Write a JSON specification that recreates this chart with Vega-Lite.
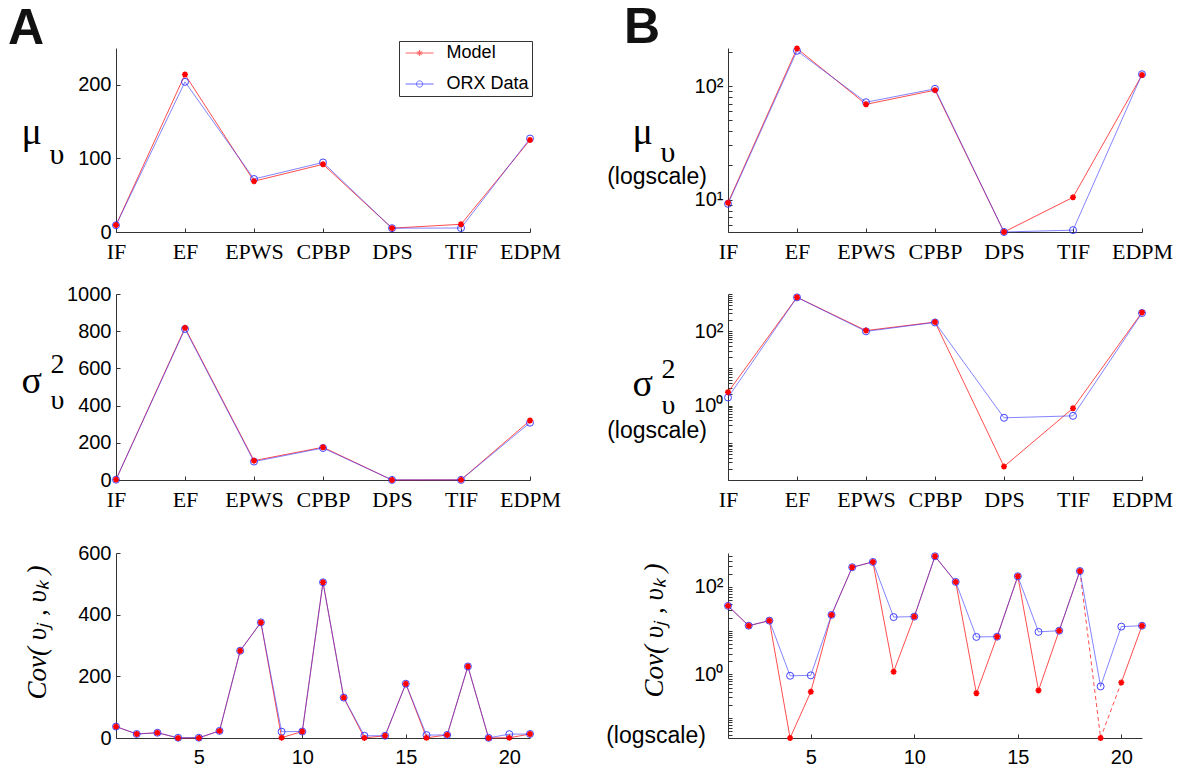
{
  "$schema": "https://vega.github.io/schema/vega-lite/v6.json",
  "autosize": {"type": "none"},
  "padding": {"left": 116, "top": 48, "right": 1072, "bottom": 719},
  "background": "white",
  "datasets": {
    "mu": [
      {"cat": "IF", "series": "Model", "value": 9.4}, {"cat": "IF", "series": "ORX Data", "value": 9.2},
      {"cat": "EF", "series": "Model", "value": 214}, {"cat": "EF", "series": "ORX Data", "value": 204},
      {"cat": "EPWS", "series": "Model", "value": 69}, {"cat": "EPWS", "series": "ORX Data", "value": 72},
      {"cat": "CPBP", "series": "Model", "value": 92}, {"cat": "CPBP", "series": "ORX Data", "value": 94.5},
      {"cat": "DPS", "series": "Model", "value": 5.2}, {"cat": "DPS", "series": "ORX Data", "value": 5.2},
      {"cat": "TIF", "series": "Model", "value": 10.5}, {"cat": "TIF", "series": "ORX Data", "value": 5.4},
      {"cat": "EDPM", "series": "Model", "value": 125}, {"cat": "EDPM", "series": "ORX Data", "value": 127}
    ],
    "sigma": [
      {"cat": "IF", "series": "Model", "value": 2.3}, {"cat": "IF", "series": "ORX Data", "value": 1.65},
      {"cat": "EF", "series": "Model", "value": 818}, {"cat": "EF", "series": "ORX Data", "value": 812},
      {"cat": "EPWS", "series": "Model", "value": 104}, {"cat": "EPWS", "series": "ORX Data", "value": 99},
      {"cat": "CPBP", "series": "Model", "value": 176}, {"cat": "CPBP", "series": "ORX Data", "value": 172},
      {"cat": "DPS", "series": "Model", "value": 0.023}, {"cat": "DPS", "series": "ORX Data", "value": 0.47},
      {"cat": "TIF", "series": "Model", "value": 0.85}, {"cat": "TIF", "series": "ORX Data", "value": 0.53},
      {"cat": "EDPM", "series": "Model", "value": 320}, {"cat": "EDPM", "series": "ORX Data", "value": 308}
    ],
    "cov": [
      {"k": 1, "series": "Model", "value": 37}, {"k": 1, "series": "ORX Data", "value": 37},
      {"k": 2, "series": "Model", "value": 13}, {"k": 2, "series": "ORX Data", "value": 13},
      {"k": 3, "series": "Model", "value": 17}, {"k": 3, "series": "ORX Data", "value": 17},
      {"k": 4, "series": "Model", "value": 0.035}, {"k": 4, "series": "ORX Data", "value": 0.93},
      {"k": 5, "series": "Model", "value": 0.4}, {"k": 5, "series": "ORX Data", "value": 0.95},
      {"k": 6, "series": "Model", "value": 23}, {"k": 6, "series": "ORX Data", "value": 23},
      {"k": 7, "series": "Model", "value": 283}, {"k": 7, "series": "ORX Data", "value": 283},
      {"k": 8, "series": "Model", "value": 375}, {"k": 8, "series": "ORX Data", "value": 375},
      {"k": 9, "series": "Model", "value": 1.15}, {"k": 9, "series": "ORX Data", "value": 20.5},
      {"k": 10, "series": "Model", "value": 21}, {"k": 10, "series": "ORX Data", "value": 21},
      {"k": 11, "series": "Model", "value": 505}, {"k": 11, "series": "ORX Data", "value": 505},
      {"k": 12, "series": "Model", "value": 131}, {"k": 12, "series": "ORX Data", "value": 131},
      {"k": 13, "series": "Model", "value": 0.37}, {"k": 13, "series": "ORX Data", "value": 7.2},
      {"k": 14, "series": "Model", "value": 7.3}, {"k": 14, "series": "ORX Data", "value": 7.3},
      {"k": 15, "series": "Model", "value": 176}, {"k": 15, "series": "ORX Data", "value": 176},
      {"k": 16, "series": "Model", "value": 0.43}, {"k": 16, "series": "ORX Data", "value": 9.4},
      {"k": 17, "series": "Model", "value": 10}, {"k": 17, "series": "ORX Data", "value": 10},
      {"k": 18, "series": "Model", "value": 232}, {"k": 18, "series": "ORX Data", "value": 232},
      {"k": 19, "series": "Model", "value": 0.035}, {"k": 19, "series": "ORX Data", "value": 0.53},
      {"k": 20, "series": "Model", "value": 0.65}, {"k": 20, "series": "ORX Data", "value": 12.4},
      {"k": 21, "series": "Model", "value": 13}, {"k": 21, "series": "ORX Data", "value": 13}
    ]
  },
  "columns": 2,
  "spacing": {"row": 62, "column": 198},
  "bounds": "flush",
  "concat": [
    {
      "width": 414, "height": 184,
      "title": {"text": "A", "anchor": "start", "frame": "group", "font": "Liberation Sans", "fontSize": 50, "fontWeight": "bold", "color": "#111111", "baseline": "alphabetic", "offset": 0, "dx": -108, "dy": 46},
      "data": {"name": "mu"},
      "encoding": {
        "x": {"field": "cat", "type": "nominal", "sort": null,
              "scale": {"type": "point", "padding": 0, "domain": ["IF", "EF", "EPWS", "CPBP", "DPS", "TIF", "EDPM"]},
              "axis": {"labelFont": "Liberation Serif", "labelFontSize": 22, "labelAngle": 0, "labelPadding": 13,
                       "title": "υ", "titleFont": "Liberation Serif", "titleFontSize": 30, "titleAngle": 0, "titleAlign": "left", "titleBaseline": "alphabetic", "titleX": -67, "titleY": -69}},
        "y": {"field": "value", "type": "quantitative", "scale": {"domain": [0, 250], "nice": false, "zero": false},
              "axis": {"values": [0, 100, 200], "format": "d", "labelPadding": 9,
                       "title": "μ", "titleFont": "Liberation Serif", "titleFontSize": 38, "titleAngle": 0, "titleAlign": "left", "titleBaseline": "alphabetic", "titleX": -95, "titleY": 95}},
        "order": {"value": null}
      },
      "layer": [
        {"transform": [{"filter": "datum.series == 'Model'"}], "mark": {"type": "line", "color": "#ff2020", "strokeWidth": 0.8}},
        {"transform": [{"filter": "datum.series == 'ORX Data'"}], "mark": {"type": "line", "color": "#3030ff", "strokeWidth": 0.8, "opacity": 0.75}},
        {"transform": [{"filter": "datum.series == 'ORX Data'"}], "mark": {"type": "point", "shape": "circle", "filled": false, "color": "#3030ff", "size": 49, "strokeWidth": 0.9, "opacity": 1}},
        {"transform": [{"filter": "datum.series == 'Model'"}], "mark": {"type": "point", "shape": "M-1,0L1,0M0,-1L0,1M-0.7,-0.7L0.7,0.7M-0.7,0.7L0.7,-0.7", "filled": false, "color": "#ff0000", "size": 36, "strokeWidth": 1.6, "opacity": 1}},
        {"transform": [{"filter": "false"}],
         "mark": {"type": "point", "filled": false, "strokeWidth": 1},
         "encoding": {
           "color": {"field": "series", "type": "nominal",
                     "scale": {"domain": ["Model", "ORX Data"], "range": ["#ff2020", "#3030ff"]},
                     "legend": {"title": null, "orient": "none", "legendX": 283, "legendY": -7, "padding": 3, "rowPadding": 13,
                                "symbolSize": 196, "symbolOffset": 8.6, "labelOffset": 18, "labelFont": "Liberation Sans", "labelFontSize": 18,
                                "labelColor": "#000000", "strokeColor": "#333333", "fillColor": "#ffffff", "symbolStrokeWidth": 1}},
           "shape": {"field": "series", "type": "nominal",
                     "scale": {"domain": ["Model", "ORX Data"], "range": ["M-2,0L2,0M-0.43,0L0.43,0M0,-0.43L0,0.43M-0.3,-0.3L0.3,0.3M-0.3,0.3L0.3,-0.3", "M-2,0L2,0M-0.45,0A0.45,0.45 0 1,0 0.45,0A0.45,0.45 0 1,0 -0.45,0"]},
                     "legend": {"title": null, "orient": "none", "legendX": 283, "legendY": -7}}
         }}
      ]
    },
    {
      "width": 414, "height": 184,
      "title": {"text": "B", "anchor": "start", "frame": "group", "font": "Liberation Sans", "fontSize": 50, "fontWeight": "bold", "color": "#111111", "baseline": "alphabetic", "offset": 0, "dx": -104, "dy": 51},
      "data": {"name": "mu"},
      "resolve": {"scale": {"x": "independent"}, "axis": {"x": "independent"}},
      "layer": [
        {
          "encoding": {
            "x": {"field": "cat", "type": "nominal", "sort": null,
                  "scale": {"type": "point", "padding": 0, "domain": ["IF", "EF", "EPWS", "CPBP", "DPS", "TIF", "EDPM"]},
                  "axis": {"labelFont": "Liberation Serif", "labelFontSize": 22, "labelAngle": 0, "labelPadding": 13,
                           "title": "(logscale)", "titleFont": "Liberation Sans", "titleFontSize": 23, "titleAngle": 0, "titleAlign": "center", "titleBaseline": "alphabetic", "titleX": -71.5, "titleY": -49}},
            "y": {"field": "value", "type": "quantitative", "scale": {"type": "log", "domain": [5.2, 216], "nice": false, "zero": false},
                  "axis": {"values": [6, 7, 8, 9, 10, 20, 30, 40, 50, 60, 70, 80, 90, 100, 200], "labelPadding": 9,
                           "labelExpr": "datum.value == 100 ? '10²' : datum.value == 10 ? '10¹' : ''",
                           "title": "μ", "titleFont": "Liberation Serif", "titleFontSize": 38, "titleAngle": 0, "titleAlign": "left", "titleBaseline": "alphabetic", "titleX": -96, "titleY": 95}},
            "order": {"value": null}
          },
          "layer": [
            {"transform": [{"filter": "datum.series == 'Model'"}], "mark": {"type": "line", "color": "#ff2020", "strokeWidth": 0.8}},
            {"transform": [{"filter": "datum.series == 'ORX Data'"}], "mark": {"type": "line", "color": "#3030ff", "strokeWidth": 0.8, "opacity": 0.75}},
            {"transform": [{"filter": "datum.series == 'ORX Data'"}], "mark": {"type": "point", "shape": "circle", "filled": false, "color": "#3030ff", "size": 49, "strokeWidth": 0.9, "opacity": 1}},
            {"transform": [{"filter": "datum.series == 'Model'"}], "mark": {"type": "point", "shape": "M-1,0L1,0M0,-1L0,1M-0.7,-0.7L0.7,0.7M-0.7,0.7L0.7,-0.7", "filled": false, "color": "#ff0000", "size": 36, "strokeWidth": 1.6, "opacity": 1}}
          ]
        },
        {
          "transform": [{"filter": "false"}],
          "mark": {"type": "point"},
          "encoding": {
            "x": {"field": "cat", "type": "nominal", "sort": null,
                  "scale": {"type": "point", "padding": 0, "domain": ["IF", "EF", "EPWS", "CPBP", "DPS", "TIF", "EDPM"]},
                  "axis": {"orient": "top", "domain": false, "ticks": false, "labels": false,
                           "title": "υ", "titleFont": "Liberation Serif", "titleFontSize": 30, "titleAngle": 0, "titleAlign": "left", "titleBaseline": "alphabetic", "titleX": -68, "titleY": 113}}
          }
        }
      ]
    },
    {
      "width": 414, "height": 186,
      "data": {"name": "sigma"},
      "encoding": {
        "x": {"field": "cat", "type": "nominal", "sort": null,
              "scale": {"type": "point", "padding": 0, "domain": ["IF", "EF", "EPWS", "CPBP", "DPS", "TIF", "EDPM"]},
              "axis": {"labelFont": "Liberation Serif", "labelFontSize": 22, "labelAngle": 0, "labelPadding": 13,
                       "title": ["2", "υ"], "titleFont": "Liberation Serif", "titleFontSize": 28, "titleLineHeight": 36, "titleAngle": 0, "titleAlign": "left", "titleBaseline": "alphabetic", "titleX": -66, "titleY": -108}},
        "y": {"field": "value", "type": "quantitative", "scale": {"domain": [0, 1000], "nice": false, "zero": false},
              "axis": {"values": [0, 200, 400, 600, 800, 1000], "format": "d", "labelPadding": 9,
                       "title": "σ", "titleFont": "Liberation Serif", "titleFontSize": 38, "titleAngle": 0, "titleAlign": "left", "titleBaseline": "alphabetic", "titleX": -95, "titleY": 98}},
        "order": {"value": null}
      },
      "layer": [
        {"transform": [{"filter": "datum.series == 'Model'"}], "mark": {"type": "line", "color": "#ff2020", "strokeWidth": 0.8}},
        {"transform": [{"filter": "datum.series == 'ORX Data'"}], "mark": {"type": "line", "color": "#3030ff", "strokeWidth": 0.8, "opacity": 0.75}},
        {"transform": [{"filter": "datum.series == 'ORX Data'"}], "mark": {"type": "point", "shape": "circle", "filled": false, "color": "#3030ff", "size": 49, "strokeWidth": 0.9, "opacity": 1}},
        {"transform": [{"filter": "datum.series == 'Model'"}], "mark": {"type": "point", "shape": "M-1,0L1,0M0,-1L0,1M-0.7,-0.7L0.7,0.7M-0.7,0.7L0.7,-0.7", "filled": false, "color": "#ff0000", "size": 36, "strokeWidth": 1.6, "opacity": 1}}
      ]
    },
    {
      "width": 414, "height": 186,
      "data": {"name": "sigma"},
      "resolve": {"scale": {"x": "independent"}, "axis": {"x": "independent"}},
      "layer": [
        {
          "encoding": {
            "x": {"field": "cat", "type": "nominal", "sort": null,
                  "scale": {"type": "point", "padding": 0, "domain": ["IF", "EF", "EPWS", "CPBP", "DPS", "TIF", "EDPM"]},
                  "axis": {"labelFont": "Liberation Serif", "labelFontSize": 22, "labelAngle": 0, "labelPadding": 13,
                           "title": "(logscale)", "titleFont": "Liberation Sans", "titleFontSize": 23, "titleAngle": 0, "titleAlign": "center", "titleBaseline": "alphabetic", "titleX": -71.5, "titleY": -43}},
            "y": {"field": "value", "type": "quantitative", "scale": {"type": "log", "domain": [0.01, 1000], "nice": false, "zero": false},
                  "axis": {"values": [0.01, 0.02, 0.03, 0.04, 0.05, 0.06, 0.07, 0.08, 0.09, 0.1, 0.2, 0.3, 0.4, 0.5, 0.6, 0.7, 0.8, 0.9, 1, 2, 3, 4, 5, 6, 7, 8, 9, 10, 20, 30, 40, 50, 60, 70, 80, 90, 100, 200, 300, 400, 500, 600, 700, 800, 900, 1000], "labelPadding": 9,
                           "labelExpr": "datum.value == 100 ? '10²' : datum.value == 1 ? '10⁰' : ''",
                           "title": "σ", "titleFont": "Liberation Serif", "titleFontSize": 38, "titleAngle": 0, "titleAlign": "left", "titleBaseline": "alphabetic", "titleX": -96, "titleY": 101}},
            "order": {"value": null}
          },
          "layer": [
            {"transform": [{"filter": "datum.series == 'Model'"}], "mark": {"type": "line", "color": "#ff2020", "strokeWidth": 0.8}},
            {"transform": [{"filter": "datum.series == 'ORX Data'"}], "mark": {"type": "line", "color": "#3030ff", "strokeWidth": 0.8, "opacity": 0.75}},
            {"transform": [{"filter": "datum.series == 'ORX Data'"}], "mark": {"type": "point", "shape": "circle", "filled": false, "color": "#3030ff", "size": 49, "strokeWidth": 0.9, "opacity": 1}},
            {"transform": [{"filter": "datum.series == 'Model'"}], "mark": {"type": "point", "shape": "M-1,0L1,0M0,-1L0,1M-0.7,-0.7L0.7,0.7M-0.7,0.7L0.7,-0.7", "filled": false, "color": "#ff0000", "size": 36, "strokeWidth": 1.6, "opacity": 1}}
          ]
        },
        {
          "transform": [{"filter": "false"}],
          "mark": {"type": "point"},
          "encoding": {
            "x": {"field": "cat", "type": "nominal", "sort": null,
                  "scale": {"type": "point", "padding": 0, "domain": ["IF", "EF", "EPWS", "CPBP", "DPS", "TIF", "EDPM"]},
                  "axis": {"orient": "top", "domain": false, "ticks": false, "labels": false,
                           "title": ["2", "υ"], "titleFont": "Liberation Serif", "titleFontSize": 28, "titleLineHeight": 36, "titleAngle": 0, "titleAlign": "left", "titleBaseline": "alphabetic", "titleX": -67, "titleY": 83}}
          }
        }
      ]
    },
    {
      "width": 414, "height": 196,
      "data": {"name": "cov"},
      "encoding": {
        "x": {"field": "k", "type": "quantitative", "scale": {"domain": [1, 21], "nice": false, "zero": false},
              "axis": {"values": [5, 10, 15, 20], "labelPadding": 13, "labelFlush": false, "title": null}},
        "y": {"field": "value", "type": "quantitative", "scale": {"domain": [0, 600], "nice": false, "zero": false, "range": [196, 11]},
              "axis": {"values": [0, 200, 400, 600], "format": "d", "labelPadding": 9,
                       "title": "Cov( υⱼ , υₖ )", "titleFont": "Liberation Serif", "titleFontStyle": "italic", "titleFontSize": 27, "titleAngle": -90, "titleAlign": "center", "titleBaseline": "alphabetic", "titleX": -71, "titleY": 90}},
        "order": {"value": null}
      },
      "layer": [
        {"transform": [{"filter": "datum.series == 'Model'"}], "mark": {"type": "line", "color": "#ff2020", "strokeWidth": 0.8}},
        {"transform": [{"filter": "datum.series == 'ORX Data'"}], "mark": {"type": "line", "color": "#3030ff", "strokeWidth": 0.8, "opacity": 0.75}},
        {"transform": [{"filter": "datum.series == 'ORX Data'"}], "mark": {"type": "point", "shape": "circle", "filled": false, "color": "#3030ff", "size": 49, "strokeWidth": 0.9, "opacity": 1}},
        {"transform": [{"filter": "datum.series == 'Model'"}], "mark": {"type": "point", "shape": "M-1,0L1,0M0,-1L0,1M-0.7,-0.7L0.7,0.7M-0.7,0.7L0.7,-0.7", "filled": false, "color": "#ff0000", "size": 36, "strokeWidth": 1.6, "opacity": 1}}
      ]
    },
    {
      "width": 414, "height": 196,
      "data": {"name": "cov"},
      "encoding": {
        "x": {"field": "k", "type": "quantitative", "scale": {"domain": [1, 21], "nice": false, "zero": false},
              "axis": {"values": [5, 10, 15, 20], "labelPadding": 13, "labelFlush": false,
                       "title": "(logscale)", "titleFont": "Liberation Sans", "titleFontSize": 23, "titleAngle": 0, "titleAlign": "center", "titleBaseline": "alphabetic", "titleX": -72.5, "titleY": 4}},
        "y": {"field": "value", "type": "quantitative", "scale": {"type": "log", "domain": [0.035, 600], "nice": false, "zero": false, "range": [196, 11]},
              "axis": {"values": [0.04, 0.05, 0.06, 0.07, 0.08, 0.09, 0.1, 0.2, 0.3, 0.4, 0.5, 0.6, 0.7, 0.8, 0.9, 1, 2, 3, 4, 5, 6, 7, 8, 9, 10, 20, 30, 40, 50, 60, 70, 80, 90, 100, 200, 300, 400, 500], "labelPadding": 9,
                       "labelExpr": "datum.value == 100 ? '10²' : datum.value == 1 ? '10⁰' : ''",
                       "title": "Cov( υⱼ , υₖ )", "titleFont": "Liberation Serif", "titleFontStyle": "italic", "titleFontSize": 27, "titleAngle": -90, "titleAlign": "center", "titleBaseline": "alphabetic", "titleX": -66, "titleY": 88}},
        "order": {"value": null}
      },
      "layer": [
        {"transform": [{"filter": "datum.series == 'Model' && datum.k <= 18"}], "mark": {"type": "line", "color": "#ff2020", "strokeWidth": 0.8}},
        {"transform": [{"filter": "datum.series == 'Model' && datum.k >= 20"}], "mark": {"type": "line", "color": "#ff2020", "strokeWidth": 0.8}},
        {"transform": [{"filter": "datum.series == 'Model' && datum.k >= 18 && datum.k <= 20"}], "mark": {"type": "line", "color": "#ff2020", "strokeWidth": 0.8, "strokeDash": [4, 3]}},
        {"transform": [{"filter": "datum.series == 'ORX Data'"}], "mark": {"type": "line", "color": "#3030ff", "strokeWidth": 0.8, "opacity": 0.75}},
        {"transform": [{"filter": "datum.series == 'ORX Data'"}], "mark": {"type": "point", "shape": "circle", "filled": false, "color": "#3030ff", "size": 49, "strokeWidth": 0.9, "opacity": 1}},
        {"transform": [{"filter": "datum.series == 'Model'"}], "mark": {"type": "point", "shape": "M-1,0L1,0M0,-1L0,1M-0.7,-0.7L0.7,0.7M-0.7,0.7L0.7,-0.7", "filled": false, "color": "#ff0000", "size": 36, "strokeWidth": 1.6, "opacity": 1}}
      ]
    }
  ],
  "config": {
    "view": {"stroke": null},
    "font": "Liberation Sans",
    "axis": {"domainColor": "#333333", "tickColor": "#333333", "domainWidth": 1, "tickWidth": 1, "tickSize": -4, "grid": false,
             "labelColor": "#000000", "titleColor": "#000000", "labelOverlap": false, "labelFont": "Liberation Sans", "labelFontSize": 20, "titleFontWeight": "normal"}
  }
}
